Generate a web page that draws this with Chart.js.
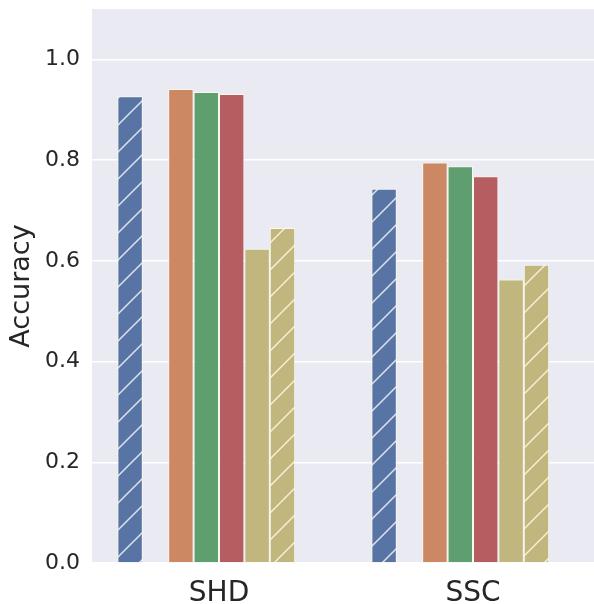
<!DOCTYPE html>
<html>
<head>
<meta charset="utf-8">
<script src="https://cdn.jsdelivr.net/npm/chart.js@4/dist/chart.umd.min.js"></script>
<style>
  html, body { margin: 0; padding: 0; background: #fff; overflow: hidden; }
  canvas { display: block; }
</style>
</head>
<body>
<canvas id="accChart" width="600" height="604"></canvas>
<script>
// data
const categories = ['SHD', 'SSC'];
const yTicks = [0.0, 0.2, 0.4, 0.6, 0.8, 1.0];
const blueVals = [0.927, 0.743];
const orangeVals = [0.941, 0.795];
const greenVals = [0.935, 0.788];
const redVals = [0.931, 0.768];
const yellowVals = [0.624, 0.563];
const yellowHatchVals = [0.665, 0.592];
const emptyVals = [null, null];

const textColor = '#262626';

function hatch(base, line) {
    const s = 27;
    const c = document.createElement('canvas');
    c.width = s; c.height = s;
    const g = c.getContext('2d');
    g.fillStyle = base;
    g.fillRect(0, 0, s, s);
    g.strokeStyle = line;
    g.lineWidth = 1.5;
    g.beginPath();
    g.moveTo(-2, s + 2); g.lineTo(s + 2, -2);
    g.moveTo(-2, 2); g.lineTo(2, -2);
    g.moveTo(s - 2, s + 2); g.lineTo(s + 2, s - 2);
    g.stroke();
    return g.createPattern(c, 'repeat');
}

const plotBg = {
    id: 'plotBg',
    beforeDraw(chart) {
        const a = chart.chartArea;
        const ctx = chart.ctx;
        ctx.save();
        ctx.fillStyle = '#EAEAF2';
        ctx.fillRect(a.left, a.top, a.right - a.left, a.bottom - a.top);
        ctx.restore();
    }
};

const edge = 'rgba(255,253,235,0.75)';
function ds(label, data, bg) {
    return { label: label, data: data, backgroundColor: bg, borderColor: edge, borderWidth: 1 };
}

new Chart(document.getElementById('accChart'), {
    type: 'bar',
    data: {
        labels: categories,
        datasets: [
            ds('blue', blueVals, hatch('#5874A4', 'rgba(255,255,255,0.8)')),
            ds('gap1', emptyVals, 'rgba(0,0,0,0)'),
            ds('orange', orangeVals, '#CC8863'),
            ds('green', greenVals, '#5F9E6F'),
            ds('red', redVals, '#B55D60'),
            ds('yellow', yellowVals, '#C1B67E'),
            ds('yellow hatched', yellowHatchVals, hatch('#C1B67E', 'rgba(255,250,225,0.85)')),
            ds('gap2', emptyVals, 'rgba(0,0,0,0)')
        ]
    },
    options: {
        responsive: false,
        animation: false,
        devicePixelRatio: 1,
        categoryPercentage: 0.8,
        barPercentage: 1.0,
        layout: { padding: { top: 9, right: 0, left: 0, bottom: 0 } },
        plugins: {
            legend: { display: false },
            tooltip: { enabled: false }
        },
        scales: {
            x: {
                grid: { display: false, drawTicks: false },
                border: { display: false },
                ticks: {
                    color: textColor,
                    padding: 14,
                    font: { family: 'DejaVu Sans', size: 28 }
                },
                afterFit(scale) {
                    scale.height = 41;
                    scale.paddingLeft = 0; scale.paddingRight = 0;
                }
            },
            y: {
                min: 0,
                max: 1.1,
                afterBuildTicks(scale) {
                    scale.ticks = yTicks.map(v => ({ value: v }));
                },
                grid: { color: '#FFFFFF', lineWidth: 1.5, drawTicks: false },
                border: { display: false },
                ticks: {
                    color: textColor,
                    padding: 12,
                    font: { family: 'DejaVu Sans', size: 22 },
                    callback: v => v.toFixed(1)
                },
                title: {
                    display: true,
                    text: 'Accuracy',
                    color: textColor,
                    padding: { top: 6, bottom: 0 },
                    font: { family: 'DejaVu Sans', size: 27 }
                },
                afterFit(scale) {
                    scale.width = 92;
                    scale.paddingTop = 0; scale.paddingBottom = 0;
                }
            }
        }
    },
    plugins: [plotBg]
});
</script>
</body>
</html>
